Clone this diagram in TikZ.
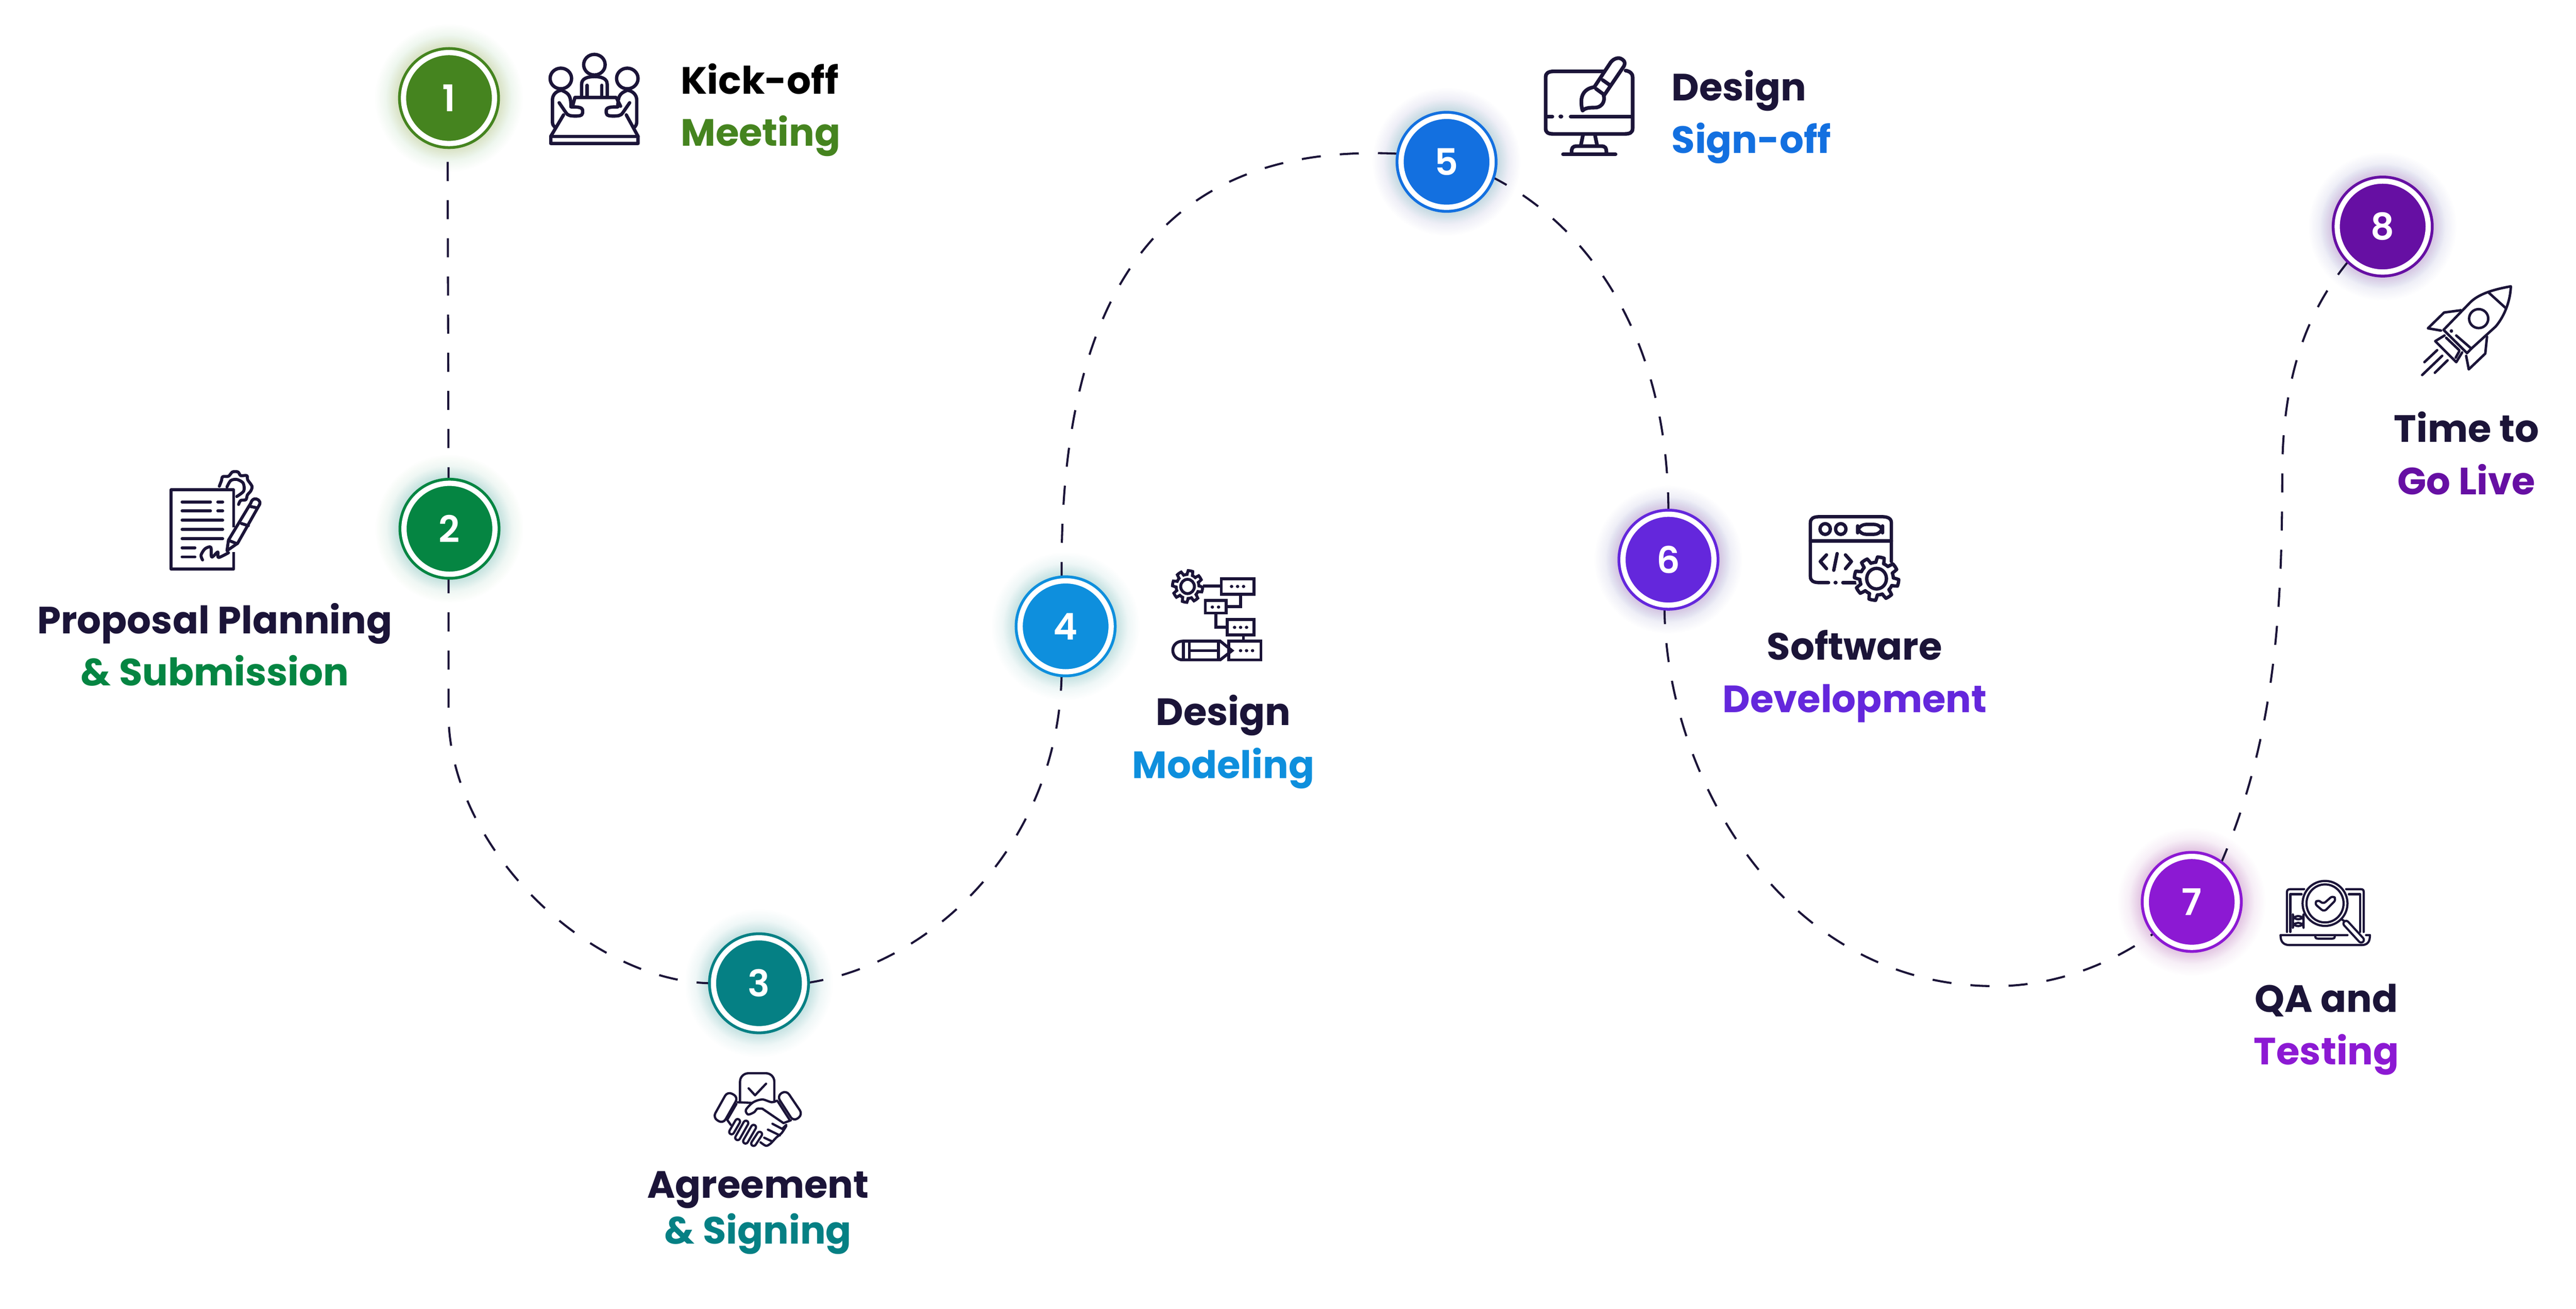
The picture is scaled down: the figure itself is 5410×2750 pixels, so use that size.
\documentclass[tikz,border=0pt]{standalone}
\usepackage{fontspec}
\setmainfont{Poppins}
\newfontfamily\numfont{Poppins SemiBold}
\usetikzlibrary{calc}
\definecolor{ink}{HTML}{1B1438}
\definecolor{cA}{HTML}{45841F}
\definecolor{cB}{HTML}{058542}
\definecolor{cC}{HTML}{058084}
\definecolor{cD}{HTML}{0E8FDD}
\definecolor{cE}{HTML}{1370E0}
\definecolor{cF}{HTML}{6427DC}
\definecolor{cG}{HTML}{8C19D3}
\definecolor{cH}{HTML}{660FA3}
\definecolor{gA}{HTML}{6FE03A}
\definecolor{gB}{HTML}{1FD87A}
\definecolor{gC}{HTML}{1FD8DC}
\pgfdeclarelayer{back}
\pgfsetlayers{back,main}
\tikzset{
  stepdot/.style={circle,inner sep=0pt,outer sep=0pt,minimum size=191*0.2845pt,line width=1.7pt,
     double=white,double distance=3.13pt,text=white,font=\numfont\fontsize{22}{24}\selectfont},
  conn/.style={draw=ink,line width=1.25pt,dash pattern=on 11.4pt off 11.4pt},
  lab/.style={anchor=base,inner sep=0pt,font=\bfseries\fontsize{22.7}{28}\selectfont},
  labl/.style={lab,anchor=base west},
  icon/.style={draw=ink,line cap=round,line join=round},
}
\newcommand\gearpath[6]{\draw[line width=#6] plot[domain=0:360,samples=145]
  ({#1+#3*cos(\x)*(1+.14*max(-1,min(1,3*sin(#5*\x))))},{#2+#4*sin(\x)*(1+.14*max(-1,min(1,3*sin(#5*\x))))}) -- cycle;}
\begin{document}
\begin{tikzpicture}[x=0.01cm,y=-0.01cm]
\useasboundingbox (0,0) rectangle (5410,2750);
\begin{pgfonlayer}{back}
\fill[white] (0,0) rectangle (5410,2750);
\end{pgfonlayer}
% glows and step discs
\foreach \n/\lbl/\px/\py/\c/\g/\o in {nA/1/943/206/cA/gA/0.006,nB/2/944/1111/cB/gB/0.007,nC/3/1594/2066/cC/gC/0.007,nD/4/2238/1316/cD/cD/0.009,nE/5/3038/340/cE/cE/0.009,nF/6/3504/1176/cF/cF/0.009,nG/7/4603/1895/cG/cG/0.009,nH/8/5004/476/cH/cH/0.009}{
  \begin{pgfonlayer}{back}
  \foreach \r in {107,110,...,155}{\fill[\g,opacity=\o] (\px,\py) circle (\r);}
  \foreach \r in {107,109,...,131}{\fill[\g,opacity=\o] (\px,\py) circle (\r);}
  \end{pgfonlayer}
  \node[stepdot,draw=\c,fill=\c] (\n) at (\px,\py) {\lbl};
}
% connectors
\begin{pgfonlayer}{back}
\draw[conn,dash phase=-11pt] ($(nA.south)+(-3,0)$) -- ($(nB.north)+(-2,0)$);
\draw[conn,dash phase=0pt] ($(nB.south)+(-2,0)$) -- (942,1500) .. controls (942,1780) and (1240,2066) .. (nC.west);
\draw[conn] (nC.east) .. controls (1950,2030) and (2225,1780) .. (nD.265);
\draw[conn] (nD.95) .. controls (2222,560) and (2480,298) .. (nE.170);
\draw[conn] (nE.-18) .. controls (3330,470) and (3504,700) .. (nF.north);
\draw[conn] (nF.265) .. controls (3495,1620) and (3740,2072) .. (4190,2072) .. controls (4310,2072) and (4430,2030) .. (nG.220);
\draw[conn] (nG.52) .. controls (4775,1560) and (4793,1300) .. (4793,1000) .. controls (4793,820) and (4830,670) .. (nH.225);
\end{pgfonlayer}
% labels
\node[labl,text=black] (tA1) at (1429,197) {Kick-off};
\node[labl,text=cA] (tA2) at (1429,307) {Meeting};
\node[lab,text=ink] (tB1) at (451,1331) {Proposal Planning};
\node[lab,text=cB] (tB2) at (451,1441) {\& Submission};
\node[lab,text=ink] (tC1) at (1592,2517) {Agreement};
\node[lab,text=cC] (tC2) at (1592,2613) {\& Signing};
\node[lab,text=ink] (tD1) at (2569,1524) {Design};
\node[lab,text=cD] (tD2) at (2569,1635) {Modeling};
\node[labl,text=ink] (tE1) at (3510,212) {Design};
\node[labl,text=cE] (tE2) at (3510,322) {Sign-off};
\node[lab,text=ink] (tF1) at (3895,1387) {Software};
\node[lab,text=cF] (tF2) at (3895,1497) {Development};
\node[lab,text=ink] (tG1) at (4886,2127) {QA and};
\node[lab,text=cG] (tG2) at (4886,2237) {Testing};
\node[lab,text=ink] (tH1) at (5180,929) {Time to};
\node[lab,text=cH] (tH2) at (5180,1039) {Go Live};
% icon 1: meeting
\begin{scope}[shift={(776,60)},xscale=.705,yscale=.333,icon,line width=2pt]
\draw (670,228) ellipse (32 and 65);
\draw (570,315) ellipse (32 and 65);
\draw (768,315) ellipse (32 and 65);
\draw (632,425) -- (632,350) .. controls (632,315) and (650,303) .. (670,303) .. controls (690,303) and (708,315) .. (708,350) -- (708,425);
\draw (648,358) -- (648,425) (692,358) -- (692,425);
\draw (605,490) -- (612,435) -- (735,435) -- (748,490);
\draw (570,390) .. controls (555,395) and (545,420) .. (545,450) -- (545,590) .. controls (545,605) and (548,615) .. (552,622);
\draw (770,390) .. controls (785,395) and (796,420) .. (796,450) -- (796,590) .. controls (796,605) and (793,615) .. (790,622);
\draw (575,392) .. controls (595,410) and (600,430) .. (600,490);
\draw (765,392) .. controls (745,410) and (740,430) .. (740,490);
\draw (565,468) -- (585,530) .. controls (590,550) and (600,552) .. (615,552) .. controls (635,552) and (635,540) .. (635,520) .. controls (635,498) and (625,494) .. (600,494);
\draw (775,468) -- (755,530) .. controls (750,550) and (740,552) .. (725,552) .. controls (705,552) and (705,540) .. (705,520) .. controls (705,498) and (715,494) .. (740,494);
\draw (578,545) -- (540,680) -- (540,725) -- (800,725) -- (800,680) -- (765,545);
\draw[line width=1.9pt] (540,682) -- (800,682);
\end{scope}
% icon 2: proposal
\begin{scope}[shift={(60,960)},xscale=.641,yscale=.333,icon,line width=1.8pt]
\draw[line cap=butt] (672,445) -- (672,208) -- (467,208) -- (467,708) -- (672,708) -- (672,600);
\foreach \yy in {284,341}{\draw (503,\yy) -- (596,\yy) (620,\yy) -- (636,\yy);}
\foreach \yy in {400,458,516}{\draw (503,\yy) -- (636,\yy);}
\foreach \yy in {573,631}{\draw (503,\yy) -- (545,\yy);}
\draw plot[smooth] coordinates {(625,185) (632,150) (636,125) (655,122) (668,95) (686,95) (695,118) (715,118) (718,145) (732,185) (728,215) (717,240) (712,270) (695,275) (688,300)};
\draw plot[smooth] coordinates {(650,190) (662,150) (682,142) (703,165) (705,215) (682,250)};
\draw (728,292) -- (655,525) -- (650,592) -- (685,545) -- (757,300) .. controls (762,275) and (748,262) .. (740,265) .. controls (733,268) and (730,280) .. (728,292);
\draw (725,312) -- (750,322) (697,420) -- (720,434) (660,530) -- (683,548);
\draw plot[smooth] coordinates {(570,650) (565,620) (578,580) (597,570) (600,632) (620,600) (622,635) (655,605)};
\end{scope}
% icon 3: handshake
\begin{scope}[shift={(1297,1940)},xscale=.385,yscale=.487,icon,line width=1.35pt]
\draw[rounded corners=5pt] (668,770) -- (668,647) -- (855,647) -- (855,770);
\draw (715,712) -- (750,742) -- (810,692);
\draw[rounded corners=3pt] (600,725) -- (658,750) -- (575,865) -- (520,838) -- cycle;
\draw[rounded corners=3pt] (920,720) -- (1010,825) -- (960,855) -- (870,745) -- cycle;
\draw (655,772) -- (735,775) (648,780) -- (598,848) -- (618,870);
\draw plot[smooth] coordinates {(870,765) (840,772) (790,760) (740,772) (700,805) (712,825) (745,815) (762,800) (790,800)};
\draw (790,800) -- (905,862) (875,770) -- (940,850) (905,862) -- (945,850);
\draw (920,870) -- (900,885) (845,865) -- (905,890) (820,890) -- (885,915) (800,925) -- (840,940);
\draw plot[smooth] coordinates {(780,945) (810,960) (835,950) (865,925) (895,905) (920,875)};
\foreach \ax/\ay/\bx/\by in {655/855/622/900,700/862/655/925,742/880/698/940,775/910/742/950}{
  \draw[line width=1.35pt,double=white,double distance=1.5pt] (\ax,\ay) -- (\bx,\by);}
\end{scope}
% icon 4: modeling
\begin{scope}[shift={(2098,1150)},xscale=.449,yscale=.333,icon,line width=1.75pt,line cap=butt,line join=miter]
\gearpath{882}{247}{62}{88}{8}{1.75pt}
\draw (882,247) ellipse (32 and 45);
\draw (1040,198) rectangle (1193,295);
\draw (955,245) -- (1040,245) (1130,295) -- (1130,375) -- (1065,375);
\draw (965,335) rectangle (1062,415);
\draw (1015,415) -- (1015,505) -- (1065,505);
\draw (1067,455) rectangle (1193,553);
\draw (1143,553) -- (1143,592);
\draw (1075,592) rectangle (1225,710);
\foreach \dx/\dy in {1088/247,1116/247,1144/247,998/377,1027/377,1102/505,1130/505,1158/505,1130/652,1158/652,1186/652}{\fill[ink] (\dx,\dy) ellipse (8 and 10);}
\draw (1035,592) -- (860,592) .. controls (830,592) and (813,620) .. (813,650) .. controls (813,680) and (830,710) .. (860,710) -- (1035,710) -- (1090,652) -- cycle;
\draw (862,592) -- (862,710) (890,592) -- (890,710) (890,652) -- (1027,652) (1027,592) -- (1027,710);
\end{scope}
% icon 5: monitor
\begin{scope}[shift={(2898,80)},xscale=.641,yscale=.333,icon,line width=2.2pt]
\draw (735,210) -- (570,210) .. controls (550,210) and (543,225) .. (543,245) -- (543,570) .. controls (543,595) and (550,605) .. (570,605) -- (800,605) .. controls (820,605) and (828,595) .. (828,570) -- (828,245) .. controls (828,225) and (820,210) .. (805,205);
\draw (545,495) -- (565,495) (625,495) -- (825,495);
\fill[ink] (593,495) ellipse (8 and 13);
\draw (665,615) -- (658,680) (705,615) -- (712,680);
\draw (628,722) .. controls (628,695) and (630,682) .. (645,682) -- (725,682) .. controls (740,682) and (742,695) .. (742,722);
\draw (600,733) -- (772,733);
\draw (702,310) -- (752,165) .. controls (762,130) and (780,120) .. (790,130) .. controls (805,145) and (805,165) .. (795,190) -- (735,360);
\draw (730,265) -- (752,295) (708,320) -- (735,358);
\draw (700,310) .. controls (670,320) and (660,360) .. (660,400) .. controls (660,430) and (662,445) .. (664,458) .. controls (675,435) and (695,440) .. (710,438) .. controls (730,430) and (738,395) .. (733,362);
\end{scope}
% icon 6: software
\begin{scope}[shift={(3377,1040)},xscale=.545,yscale=.333,icon,line width=2pt]
\draw (1092,420) -- (1092,175) .. controls (1092,150) and (1080,137) .. (1055,137) -- (815,137) .. controls (790,137) and (780,150) .. (780,175) -- (780,515) .. controls (780,540) and (790,553) .. (815,553) -- (850,553);
\fill[ink] (877,553) ellipse (8 and 12);
\draw (905,553) -- (965,553);
\draw (780,290) -- (1092,290);
\draw (837,215) ellipse (20 and 34) (897,215) ellipse (20 and 34);
\draw[rounded corners=5pt] (962,186) rectangle (1058,248);
\draw (842,378) -- (818,420) -- (842,465) (883,370) -- (870,475) (915,378) -- (938,420) -- (915,465);
\fill[white] (1035,528) ellipse (80 and 130);
\gearpath{1035}{528}{75}{120}{8}{2pt}
\draw (1035,528) ellipse (38 and 65);
\end{scope}
% icon 7: QA
\begin{scope}[shift={(4477,1780)},xscale=.41,yscale=.333,icon,line width=1.3pt]
\draw (795,535) -- (795,285) .. controls (795,270) and (800,265) .. (815,265) -- (883,265) (1098,265) -- (1170,265) .. controls (1185,265) and (1188,270) .. (1188,285) -- (1188,535);
\draw (812,535) -- (812,297) -- (870,297) (1112,297) -- (1170,297) -- (1170,535);
\draw (1105,555) -- (762,555) .. controls (762,595) and (775,618) .. (810,618) -- (1175,618) .. controls (1210,618) and (1220,595) .. (1220,555) -- (1200,555);
\draw (940,560) .. controls (940,575) and (945,577) .. (955,577) -- (1025,577) .. controls (1035,577) and (1040,575) .. (1040,560);
\draw (990,355) ellipse (115 and 142) (990,355) ellipse (95 and 120);
\draw[rounded corners=2pt] (935,355) -- (955,330) -- (980,360) -- (1030,305) -- (1048,330) -- (985,408) -- cycle;
\draw[rounded corners=3pt] (825,435) rectangle (880,455) (825,478) rectangle (880,498);
\draw (1075,455) -- (1095,472);
\draw[double=white,double distance=1.9pt] (1098,482) -- (1175,585);
\end{scope}
% icon 8: rocket
\begin{scope}[shift={(4838,340)},xscale=.365,yscale=.474,icon,line width=1.5pt]
\draw (805,745) -- (950,630) .. controls (990,595) and (1060,570) .. (1192,552) .. controls (1190,610) and (1160,680) .. (1105,730) -- (965,828) -- (878,770);
\draw (805,745) -- (940,848) -- (965,828);
\draw (1065,580) -- (1165,650);
\draw (1007,695) ellipse (55 and 42);
\fill[ink] (850,750) ellipse (10 and 8);
\draw (905,658) -- (808,668) -- (715,738) -- (790,748);
\draw (1055,775) -- (1045,850) -- (950,920) -- (935,860);
\draw (810,770) -- (757,795) -- (878,888) -- (912,845);
\draw (820,780) -- (895,835) (875,868) -- (895,840);
\draw (695,888) -- (768,835) (682,945) -- (797,860) (755,935) -- (828,880);
\end{scope}
\end{tikzpicture}
\end{document}
